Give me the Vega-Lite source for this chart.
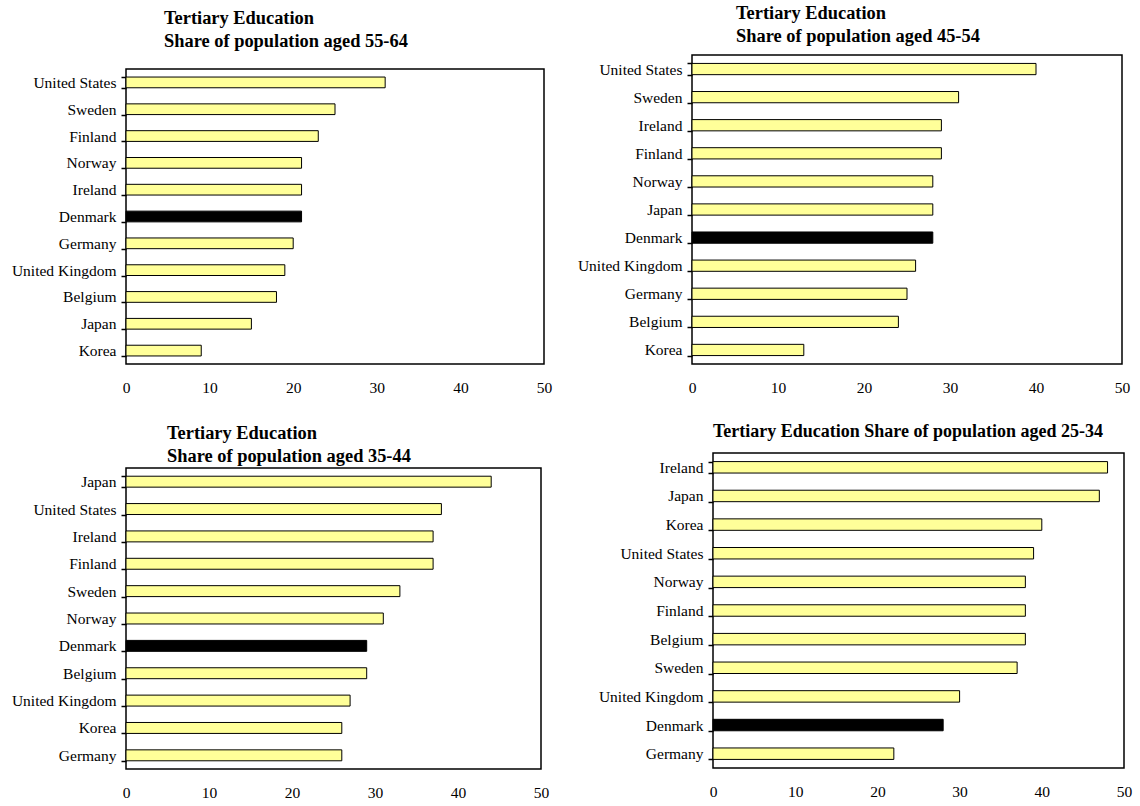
{
  "$schema": "https://vega.github.io/schema/vega-lite/v6.json",
  "background": "white",
  "padding": {"left": 10, "top": 3, "right": 5, "bottom": 5},
  "datasets": {
    "age5564": [
      {"country": "United States", "share": 31},
      {"country": "Sweden", "share": 25},
      {"country": "Finland", "share": 23},
      {"country": "Norway", "share": 21},
      {"country": "Ireland", "share": 21},
      {"country": "Denmark", "share": 21},
      {"country": "Germany", "share": 20},
      {"country": "United Kingdom", "share": 19},
      {"country": "Belgium", "share": 18},
      {"country": "Japan", "share": 15},
      {"country": "Korea", "share": 9}
    ],
    "age4554": [
      {"country": "United States", "share": 40},
      {"country": "Sweden", "share": 31},
      {"country": "Ireland", "share": 29},
      {"country": "Finland", "share": 29},
      {"country": "Norway", "share": 28},
      {"country": "Japan", "share": 28},
      {"country": "Denmark", "share": 28},
      {"country": "United Kingdom", "share": 26},
      {"country": "Germany", "share": 25},
      {"country": "Belgium", "share": 24},
      {"country": "Korea", "share": 13}
    ],
    "age3544": [
      {"country": "Japan", "share": 44},
      {"country": "United States", "share": 38},
      {"country": "Ireland", "share": 37},
      {"country": "Finland", "share": 37},
      {"country": "Sweden", "share": 33},
      {"country": "Norway", "share": 31},
      {"country": "Denmark", "share": 29},
      {"country": "Belgium", "share": 29},
      {"country": "United Kingdom", "share": 27},
      {"country": "Korea", "share": 26},
      {"country": "Germany", "share": 26}
    ],
    "age2534": [
      {"country": "Ireland", "share": 48},
      {"country": "Japan", "share": 47},
      {"country": "Korea", "share": 40},
      {"country": "United States", "share": 39},
      {"country": "Norway", "share": 38},
      {"country": "Finland", "share": 38},
      {"country": "Belgium", "share": 38},
      {"country": "Sweden", "share": 37},
      {"country": "United Kingdom", "share": 30},
      {"country": "Denmark", "share": 28},
      {"country": "Germany", "share": 22}
    ]
  },
  "vconcat": [
    {
      "hconcat": [
        {
          "bounds": "flush",
          "spacing": 13,
          "vconcat": [
            {"data": {"values": []}, "mark": "point", "encoding": {}, "width": 1, "height": 1, "view": {"stroke": null}},
            {
              "data": {"name": "age5564"},
              "width": 418,
              "height": 295,
              "title": {"text": ["Tertiary Education", "Share of population aged 55-64"], "dx": 38, "offset": 11.8, "fontSize": 18.4},
              "mark": {"type": "bar", "stroke": "black", "strokeWidth": 1},
              "encoding": {
                "y": {"field": "country", "type": "nominal", "sort": null, "scale": {"paddingInner": 0.6, "paddingOuter": 0.3}, "axis": {"title": null}},
                "x": {"field": "share", "type": "quantitative", "scale": {"domain": [0, 50], "nice": false}, "axis": {"title": null, "values": [0, 10, 20, 30, 40, 50]}},
                "fill": {"condition": {"test": "datum.country === 'Denmark'", "value": "black"}, "value": "#FFFF99"}
              }
            }
          ]
        },
        {
          "data": {"name": "age4554"},
          "width": 430,
          "height": 309,
          "title": {"text": ["Tertiary Education", "Share of population aged 45-54"], "dx": 44, "offset": 2.8, "fontSize": 18.4},
          "mark": {"type": "bar", "stroke": "black", "strokeWidth": 1},
          "encoding": {
            "y": {"field": "country", "type": "nominal", "sort": null, "scale": {"paddingInner": 0.6, "paddingOuter": 0.3}, "axis": {"title": null}},
            "x": {"field": "share", "type": "quantitative", "scale": {"domain": [0, 50], "nice": false}, "axis": {"title": null, "values": [0, 10, 20, 30, 40, 50]}},
            "fill": {"condition": {"test": "datum.country === 'Denmark'", "value": "black"}, "value": "#FFFF99"}
          }
        }
      ],
      "spacing": 23
    },
    {
      "hconcat": [
        {
          "bounds": "flush",
          "spacing": 14,
          "vconcat": [
            {"data": {"values": []}, "mark": "point", "encoding": {}, "width": 1, "height": 1, "view": {"stroke": null}},
            {
              "data": {"name": "age3544"},
              "width": 415,
              "height": 301,
              "title": {"text": ["Tertiary Education", "Share of population aged 35-44"], "dx": 41, "offset": -3.9, "fontSize": 18.4},
              "mark": {"type": "bar", "stroke": "black", "strokeWidth": 1},
              "encoding": {
                "y": {"field": "country", "type": "nominal", "sort": null, "scale": {"paddingInner": 0.6, "paddingOuter": 0.3}, "axis": {"title": null}},
                "x": {"field": "share", "type": "quantitative", "scale": {"domain": [0, 50], "nice": false}, "axis": {"title": null, "values": [0, 10, 20, 30, 40, 50]}},
                "fill": {"condition": {"test": "datum.country === 'Denmark'", "value": "black"}, "value": "#FFFF99"}
              }
            }
          ]
        },
        {
          "data": {"name": "age2534"},
          "width": 411,
          "height": 315,
          "title": {"text": "Tertiary Education Share of population aged 25-34", "dx": 0, "offset": 5.4},
          "mark": {"type": "bar", "stroke": "black", "strokeWidth": 1},
          "encoding": {
            "y": {"field": "country", "type": "nominal", "sort": null, "scale": {"paddingInner": 0.6, "paddingOuter": 0.3}, "axis": {"title": null}},
            "x": {"field": "share", "type": "quantitative", "scale": {"domain": [0, 50], "nice": false}, "axis": {"title": null, "values": [0, 10, 20, 30, 40, 50]}},
            "fill": {"condition": {"test": "datum.country === 'Denmark'", "value": "black"}, "value": "#FFFF99"}
          }
        }
      ],
      "spacing": 47
    }
  ],
  "spacing": 24,
  "config": {
    "view": {"stroke": "black", "strokeWidth": 1.5, "fill": "white"},
    "title": {"font": "Liberation Serif", "fontSize": 18, "fontWeight": "bold", "color": "black", "anchor": "start", "frame": "group", "lineHeight": 23},
    "axis": {"labelFont": "Liberation Serif", "labelFontSize": 15.5, "labelColor": "black", "grid": false, "domain": false},
    "axisY": {"tickBand": "extent", "ticks": true, "tickSize": 5, "tickColor": "black", "tickWidth": 1.5, "labelPadding": 5},
    "axisX": {"ticks": false, "tickSize": 0, "labelPadding": 16, "labelFlush": false}
  }
}
